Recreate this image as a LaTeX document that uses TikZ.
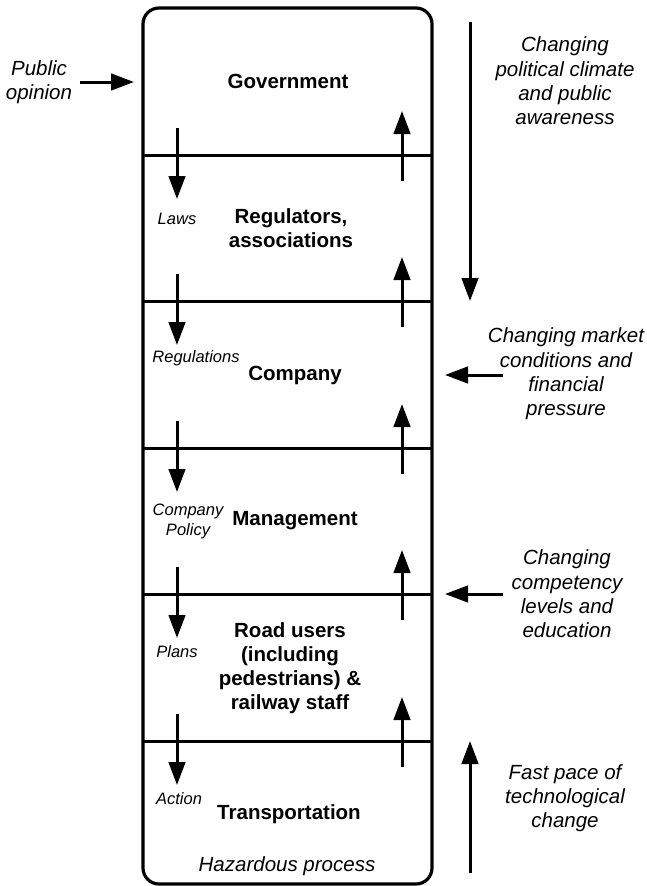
\documentclass[tikz,border=0pt]{standalone}
\usepackage{fontspec}
\setmainfont{Liberation Sans}
\usetikzlibrary{arrows.meta}
\begin{document}
\begin{tikzpicture}[x=1pt,y=-1pt,
  layer/.style={font=\fontsize{20.5}{24}\selectfont\bfseries, align=center, inner sep=0pt},
  flow/.style={font=\fontsize{16.5}{20}\selectfont\itshape, align=center, inner sep=0pt},
  side/.style={font=\fontsize{20.5}{24.3}\selectfont\itshape, align=center, inner sep=0pt},
  bigarrow/.style={line width=3pt, -{Triangle[width=16.5pt,length=23pt]}},
  divider/.style={line width=3pt}]
\useasboundingbox (0,0) rectangle (647,886);

% outer frame of the control structure
\draw[line width=3.2pt, rounded corners=16pt] (143,8) rectangle (432,884);

% hierarchy levels
\foreach \yy [count=\i] in {155,301,448,594,741}{
  \coordinate (dl\i) at (143,\yy);
  \coordinate (dr\i) at (432,\yy);
  \draw[divider] (dl\i) -- (dr\i);
  % control acting downward
  \coordinate (ds\i) at (177,\yy-27);
  \coordinate (de\i) at (177,\yy+44);
  \draw[bigarrow] (ds\i) -- (de\i);
  % feedback acting upward
  \coordinate (us\i) at (402,\yy+26);
  \coordinate (ue\i) at (402,\yy-44);
  \draw[bigarrow] (us\i) -- (ue\i);
}

\node[layer] (gov) at (288,81) {Government};
\node[layer] (reg) at (291,228) {Regulators,\\associations};
\node[layer] (comp) at (295,375) {Company};
\node[layer] (mgmt) at (295,521) {Management};
\node[layer] (users) at (290,668) {Road users\\(including\\pedestrians) \&\\railway staff};
\node[layer] (trans) at (289,814) {Transportation};
\node[side] (haz) at (287,866) {Hazardous process};

\node[flow] (laws) at (177,219) {Laws};
\node[flow] (regs) at (196,358) {Regulations};
\node[flow] (policy) at (188,521) {Company\\Policy};
\node[flow] (plans) at (177,652) {Plans};
\node[flow] (action) at (179,799) {Action};

% external influences
\node[side] (opinion) at (39,82) {Public\\opinion};
\coordinate (op1) at (80,82);
\coordinate (op2) at (134,82);
\draw[bigarrow] (op1) -- (op2);

\node[side] (political) at (565,81) {Changing\\political climate\\and public\\awareness};
\coordinate (pc1) at (470,22);
\coordinate (pc2) at (470,301);
\draw[bigarrow] (pc1) -- (pc2);

\node[side] (market) at (566,374) {Changing market\\conditions and\\financial\\pressure};
\coordinate (mk1) at (503,375);
\coordinate (mk2) at (445,375);
\draw[bigarrow] (mk1) -- (mk2);

\node[side] (competency) at (567,594) {Changing\\competency\\levels and\\education};
\coordinate (cp1) at (503,594);
\coordinate (cp2) at (445,594);
\draw[bigarrow] (cp1) -- (cp2);

\node[side] (tech) at (565,798) {Fast pace of\\technological\\change};
\coordinate (tc1) at (470,873);
\coordinate (tc2) at (470,741);
\draw[bigarrow] (tc1) -- (tc2);
\end{tikzpicture}
\end{document}
